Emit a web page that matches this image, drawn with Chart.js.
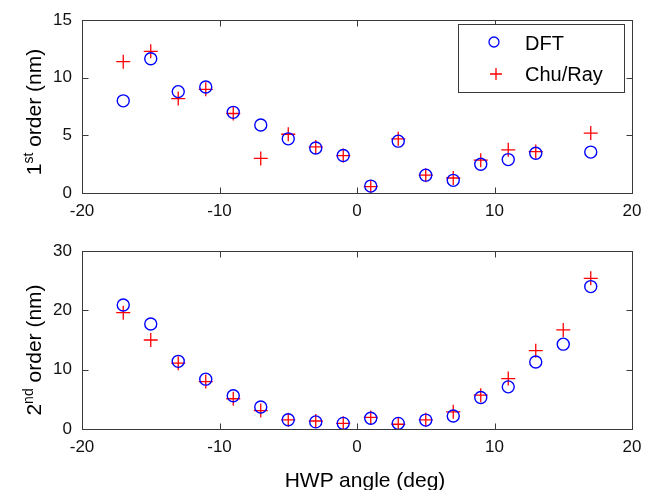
<!DOCTYPE html>
<html>
<head>
<meta charset="utf-8">
<script src="https://cdn.jsdelivr.net/npm/chart.js@4/dist/chart.umd.min.js"></script>
<style>
  body { margin: 0; background: #fff; font-family: "Liberation Sans", Arial, sans-serif; }
  #wrap { position: relative; width: 653px; height: 490px; overflow: hidden; }
  canvas { position: absolute; left: 0; }
  #c1 { top: 0; }
  #c2 { top: 230px; }
  .ytitle { position: absolute; font-size: 21px; line-height: 24px; white-space: nowrap; color: #000;
            transform: translate(-50%, -50%) rotate(-90deg); }
  .ytitle .s { font-size: 14px; position: relative; top: -8px; }
  #xtitle { position: absolute; top: 468px; left: 365px; transform: translateX(-50%);
            font-size: 21px; line-height: 24px; white-space: nowrap; color: #000; }
</style>
</head>
<body>
<div id="wrap">
  <canvas id="c1" width="653" height="230"></canvas>
  <canvas id="c2" width="653" height="260"></canvas>
  <div class="ytitle" style="left:35px; top:112px">1<span class="s">st</span> order (nm)</div>
  <div class="ytitle" style="left:35px; top:350px">2<span class="s">nd</span> order (nm)</div>
  <div id="xtitle">HWP angle (deg)</div>
</div>
<script>
// HWP angles (deg)
const angles = [-17, -15, -13, -11, -9, -7, -5, -3, -1, 1, 3, 5, 7, 9, 11, 13, 15, 17];

// 1st order (nm), no point at 15 deg
const firstDFT = [8.0, 11.65, 8.8, 9.2, 7.0, 5.9, 4.7, 3.9, 3.25, 0.6, 4.5, 1.55, 1.1, 2.5, 2.9, 3.45, null, 3.55];
const firstChu = [11.4, 12.3, 8.2, 9.0, 6.9, 3.0, 5.1, 4.0, 3.25, 0.55, 4.7, 1.55, 1.3, 2.85, 3.75, 3.6, null, 5.2];

// 2nd order (nm)
const secondDFT = [20.9, 17.7, 11.4, 8.4, 5.6, 3.7, 1.55, 1.2, 0.95, 1.8, 0.95, 1.5, 2.2, 5.3, 7.1, 11.3, 14.3, 24.0];
const secondChu = [19.6, 15.0, 11.1, 8.0, 5.1, 3.1, 1.55, 1.35, 0.95, 1.95, 0.8, 1.55, 2.9, 5.7, 8.5, 13.2, 16.7, 25.4];

const xTicks = [-20, -10, 0, 10, 20];
const yTicksFirst = [0, 5, 10, 15];
const yTicksSecond = [0, 10, 20, 30];

const labels = ['DFT', 'Chu/Ray'];
const BLUE = '#0000ff';
const RED = '#ff0000';
const AXIS = '#3a3a3a';

Chart.defaults.font.family = '"Liberation Sans", Arial, sans-serif';

function pts(vals) {
  return angles.map((a, i) => ({ x: a, y: vals[i] })).filter(p => p.y !== null);
}

// matlab style box with inward ticks
const boxPlugin = {
  id: 'box',
  afterDraw(chart) {
    const { ctx, chartArea: a, scales } = chart;
    ctx.save();
    ctx.strokeStyle = AXIS;
    ctx.lineWidth = 1;
    const L = Math.round(a.left) + 0.5, R = Math.round(a.right) + 0.5;
    const T = Math.round(a.top) + 0.5, B = Math.round(a.bottom) + 0.5;
    ctx.strokeRect(L, T, R - L, B - T);
    ctx.beginPath();
    scales.x.ticks.forEach(t => {
      const px = Math.round(scales.x.getPixelForValue(t.value)) + 0.5;
      ctx.moveTo(px, B); ctx.lineTo(px, B - 6);
      ctx.moveTo(px, T); ctx.lineTo(px, T + 6);
    });
    scales.y.ticks.forEach(t => {
      const py = Math.round(scales.y.getPixelForValue(t.value)) + 0.5;
      ctx.moveTo(L, py); ctx.lineTo(L + 6, py);
      ctx.moveTo(R, py); ctx.lineTo(R - 6, py);
    });
    ctx.stroke();

    const lg = chart.options.plugins.boxLegend;
    if (lg && lg.show) {
      ctx.fillStyle = '#fff';
      ctx.fillRect(458.5, 24.5, 166, 68);
      ctx.strokeRect(458.5, 24.5, 166, 68);
      const rows = [43, 74];
      chart.data.datasets.forEach((ds, i) => {
        const y = rows[i];
        ctx.strokeStyle = ds.borderColor;
        ctx.lineWidth = 1.3;
        ctx.beginPath();
        if (ds.pointStyle === 'circle') {
          ctx.arc(494, y - 1, 5, 0, Math.PI * 2);
        } else {
          ctx.moveTo(490, y); ctx.lineTo(502, y);
          ctx.moveTo(496, y - 6); ctx.lineTo(496, y + 6);
        }
        ctx.stroke();
        ctx.fillStyle = '#000';
        ctx.font = '20px "Liberation Sans", Arial, sans-serif';
        ctx.textBaseline = 'middle';
        ctx.textAlign = 'left';
        ctx.fillText(ds.label, 525, y + 1);
      });
    }
    ctx.restore();
  }
};

function makeChart(id, dDFT, dChu, yMax, yStep, topPad, xH, showLegend) {
  return new Chart(document.getElementById(id), {
    type: 'scatter',
    data: {
      datasets: [
        { label: labels[0], data: pts(dDFT), pointStyle: 'circle', pointRadius: 6, pointBorderWidth: 1.4,
          borderColor: BLUE, backgroundColor: 'rgba(0,0,0,0)', pointBackgroundColor: 'rgba(0,0,0,0)' },
        { label: labels[1], data: pts(dChu), pointStyle: 'cross', pointRadius: 7, pointBorderWidth: 1.3,
          borderColor: RED, backgroundColor: RED }
      ]
    },
    options: {
      responsive: false,
      animation: false,
      devicePixelRatio: 1,
      layout: { padding: { top: topPad, right: 21, left: 0, bottom: 0 } },
      plugins: { legend: { display: false }, tooltip: { enabled: false }, boxLegend: { show: showLegend } },
      scales: {
        x: {
          type: 'linear', min: -20, max: 20,
          grid: { display: false, drawTicks: false }, border: { display: false },
          afterBuildTicks: s => { s.ticks = xTicks.map(v => ({ value: v })); },
          afterFit: s => { s.height = xH; },
          ticks: { padding: 8, color: '#111', font: { size: 17 } }
        },
        y: {
          min: 0, max: yMax,
          grid: { display: false, drawTicks: false }, border: { display: false },
          afterBuildTicks: s => { s.ticks = (yMax === 15 ? yTicksFirst : yTicksSecond).map(v => ({ value: v })); },
          afterFit: s => { s.width = 82; },
          ticks: { padding: 10, color: '#111', font: { size: 17 }, stepSize: yStep }
        }
      }
    },
    plugins: [boxPlugin]
  });
}

makeChart('c1', firstDFT, firstChu, 15, 5, 15, 37, true);
makeChart('c2', secondDFT, secondChu, 30, 10, 21, 61, false);
</script>
</body>
</html>
